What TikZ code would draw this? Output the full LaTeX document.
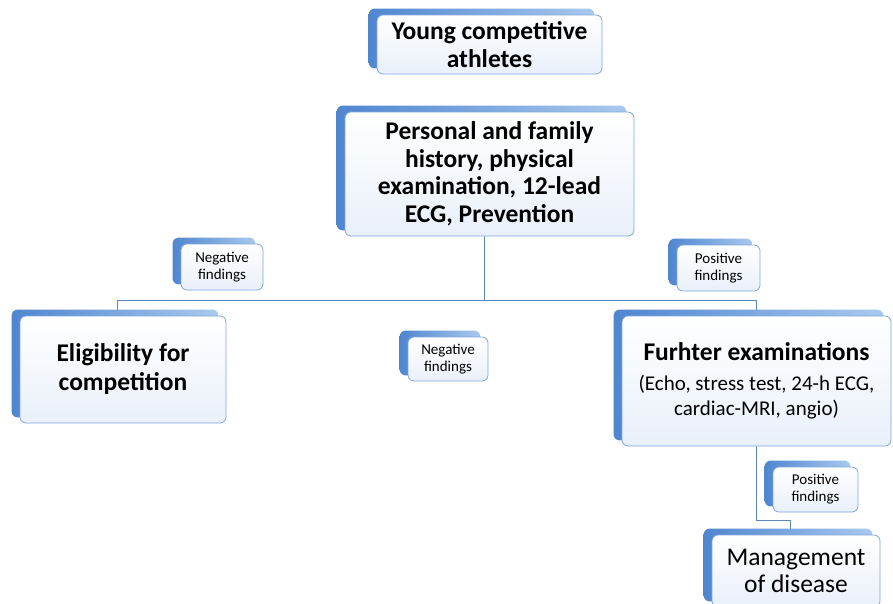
\documentclass[tikz,border=0pt]{standalone}
\usepackage{fontspec}
\setmainfont{Carlito}
\usetikzlibrary{backgrounds}
\definecolor{tabdark}{HTML}{4F86D0}
\definecolor{tablight}{HTML}{A9C9EE}
\definecolor{cardedge}{HTML}{7FA6D8}
\definecolor{cardfill}{HTML}{E9F0FA}
\definecolor{linkblue}{HTML}{5A87C2}
\newcommand{\bigfont}{\bfseries\fontsize{25.5}{27.5}\selectfont}
\newcommand{\smallfont}{\fontsize{15}{17}\selectfont}

\begin{document}
\begin{tikzpicture}[x=1pt,y=-1pt,
    card/.style={draw=cardedge, line width=0.8pt, rounded corners=6pt,
        top color=white, bottom color=cardfill, align=center, inner sep=0pt},
    link/.style={draw=linkblue, line width=0.6pt}]
    \useasboundingbox (0,0) rectangle (893,603);
    \clip (0,0) rectangle (893,603);

    %main boxes
    \node[card, minimum width=225pt, minimum height=59pt, font=\bigfont] (young) at (489.5,44.5) {Young competitive\\athletes};
    \node[card, minimum width=289pt, minimum height=124pt, font=\bigfont] (hist) at (489.5,174) {Personal and family\\history, physical\\examination, 12-lead\\ECG, Prevention};
    \node[card, minimum width=206pt, minimum height=107pt, font=\bfseries\fontsize{25.5}{29}\selectfont] (elig) at (123,369.5) {Eligibility for\\competition};
    \node[card, minimum width=269pt, minimum height=130pt, font=\fontsize{21}{25}\selectfont] (furth) at (756.5,381) {\textbf{\fontsize{25.5}{29}\selectfont Furhter examinations}\\[5pt](Echo, stress test, 24-h ECG,\\cardiac-MRI, angio)};
    \node[card, minimum width=168pt, minimum height=72pt, font=\fontsize{25.5}{27.5}\selectfont] (mgmt) at (796,571) {Management\\of disease};

    %findings labels
    \node[card, minimum width=82pt, minimum height=46pt, font=\smallfont] (negL) at (222,267) {Negative\\findings};
    \node[card, minimum width=83pt, minimum height=46pt, font=\smallfont] (posR) at (718.5,268) {Positive\\findings};
    \node[card, minimum width=80pt, minimum height=44pt, font=\smallfont] (negM) at (448,359) {Negative\\findings};
    \node[card, minimum width=85pt, minimum height=45pt, font=\smallfont] (posL) at (815.5,489.5) {Positive\\findings};

    \coordinate (bus) at (0,300);
    \coordinate (elbow) at (790,520);

    \begin{scope}[on background layer]
        \draw[link] ([xshift=-5.5pt]hist.south) -- ([xshift=-5.5pt]hist.south |- bus);
        \draw[link] ([xshift=-6pt]elig.north) |- (bus -| furth.north) -- (furth.north);
        \draw[link] (furth.south) |- (elbow) -- (elbow |- mgmt.north);
        %blue tabs
        \foreach \n in {young,hist,elig,furth,mgmt,negL,posR,negM,posL} {
            \shade[rounded corners=6pt, left color=tabdark, right color=tablight]
                ([xshift=-8pt,yshift=6pt]\n.north west) rectangle ([xshift=-8pt,yshift=6pt]\n.south east);
        }
    \end{scope}
\end{tikzpicture}
\end{document}
